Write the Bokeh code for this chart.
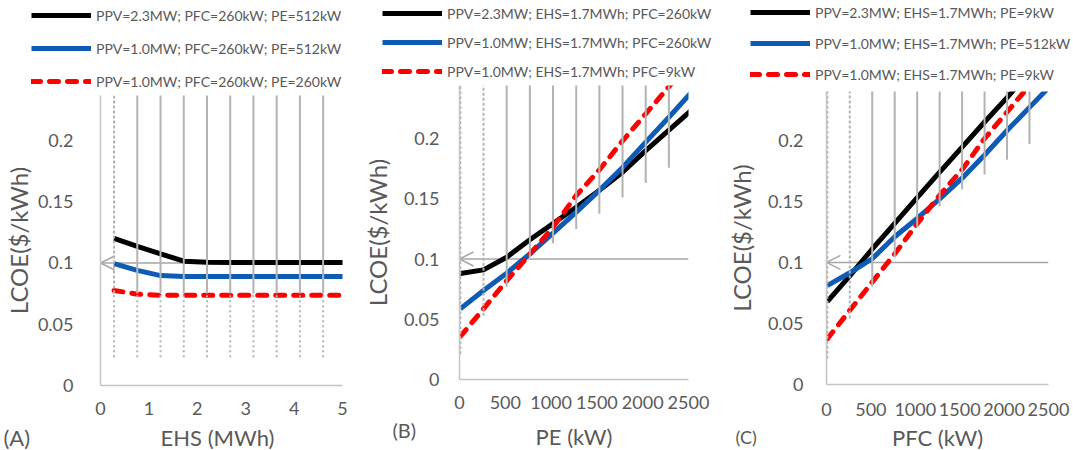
from bokeh.plotting import figure
from bokeh.layouts import row, column
from bokeh.models import (Range1d, FixedTicker, NumeralTickFormatter, Legend,
                          LegendItem, Arrow, OpenHead, Label)
from bokeh.embed import file_html
from bokeh.resources import INLINE

FONT = "Lato"
TXT = "#595959"
VGRAY = "#b3b3b3"
HGRAY = "#a6a6a6"
AXC = "#c4c4c4"
BLACK = "#000000"
BLUE = "#0d5bb5"
RED = "#ff0000"
NAN = float("nan")

# ---------------- Panel A : LCOE vs EHS (MWh) ----------------
a_x = [0.28, 0.76, 1.24, 1.72, 2.2, 2.68, 3.16, 3.64, 4.12, 4.6, 5.08]
a_black = [0.120, 0.1135, 0.1075, 0.1015, 0.1005, 0.1004, 0.1004, 0.1004, 0.1004, 0.1004, 0.1004]
a_blue = [0.0995, 0.0940, 0.0897, 0.0890, 0.0889, 0.0889, 0.0889, 0.0889, 0.0889, 0.0889, 0.0889]
a_red = [0.0776, 0.0745, 0.0737, 0.0736, 0.0736, 0.0736, 0.0736, 0.0736, 0.0736, 0.0736, 0.0736]
a_low = [0.023, 0.023, 0.023, 0.023, 0.023, 0.023, 0.023, 0.023, 0.023, 0.023]
a_labels = ["PPV=2.3MW; PFC=260kW; PE=512kW",
            "PPV=1.0MW; PFC=260kW; PE=512kW",
            "PPV=1.0MW; PFC=260kW; PE=260kW"]
a_xticks = [0, 1, 2, 3, 4, 5]

# ---------------- Panel B : LCOE vs PE (kW) ----------------
b_x = [9, 262, 515, 768, 1021, 1274, 1527, 1780, 2033, 2286, 2539]
b_black = [0.088, 0.091, 0.1015, 0.116, 0.1295, 0.143, 0.157, 0.172, 0.190, 0.207, 0.224]
b_blue = [0.0587, 0.0739, 0.0882, 0.1043, 0.1214, 0.1389, 0.157, 0.176, 0.197, 0.2177, 0.239]
b_red = [0.0357, 0.0587, 0.082, 0.104, 0.1264, 0.1527, 0.174, 0.198, 0.2205, 0.243, 0.265]
b_low = [0.021, 0.053, 0.077, 0.1015, 0.113, 0.125, 0.1375, 0.151, 0.163, 0.1757]
b_labels = ["PPV=2.3MW; EHS=1.7MWh; PFC=260kW",
            "PPV=1.0MW; EHS=1.7MWh; PFC=260kW",
            "PPV=1.0MW; EHS=1.7MWh; PFC=9kW"]
b_xticks = [0, 500, 1000, 1500, 2000, 2500]

# ---------------- Panel C : LCOE vs PFC (kW) ----------------
c_x = [9, 262, 515, 768, 1021, 1274, 1527, 1780, 2033, 2286, 2539]
c_black = [0.068, 0.089, 0.111, 0.132, 0.153, 0.174, 0.1945, 0.215, 0.235, 0.256, 0.277]
c_blue = [0.081, 0.0915, 0.103, 0.121, 0.136, 0.152, 0.169, 0.188, 0.208, 0.227, 0.246]
c_red = [0.0374, 0.0607, 0.0839, 0.107, 0.1317, 0.155, 0.176, 0.2014, 0.2232, 0.245, 0.267]
c_low = [0.021, 0.054, 0.080, 0.104, 0.129, 0.146, 0.160, 0.172, 0.184, 0.197]
c_labels = ["PPV=2.3MW; EHS=1.7MWh; PE=9kW",
            "PPV=1.0MW; EHS=1.7MWh; PE=512kW",
            "PPV=1.0MW; EHS=1.7MWh; PE=9kW"]
c_xticks = [0, 500, 1000, 1500, 2000, 2500]

y_ticks = [0, 0.05, 0.1, 0.15, 0.2]
ref_level = 0.1


def no_align(f):
    try:
        f.frame_align = False
    except Exception:
        pass


def blank_fig(width, height):
    f = figure(width=width, height=height, output_backend="svg", toolbar_location=None,
               x_range=Range1d(0, width), y_range=Range1d(0, height),
               x_axis_location=None, y_axis_location=None, min_border=0)
    f.outline_line_color = None
    f.xgrid.visible = False
    f.ygrid.visible = False
    no_align(f)
    return f


def legend_fig(width, height, labels, loc, spacing):
    lf = blank_fig(width, height)
    g1 = lf.line(x=[NAN], y=[NAN], line_color=BLACK, line_width=5)
    g2 = lf.line(x=[NAN], y=[NAN], line_color=BLUE, line_width=5)
    g3 = lf.line(x=[NAN], y=[NAN], line_color=RED, line_width=5, line_dash="9 9",
                 line_cap="round")
    leg = Legend(items=[LegendItem(label=labels[0], renderers=[g1]),
                        LegendItem(label=labels[1], renderers=[g2]),
                        LegendItem(label=labels[2], renderers=[g3])],
                 location=loc, glyph_width=60, glyph_height=20, label_height=20,
                 label_standoff=5, spacing=spacing, padding=0, margin=0,
                 border_line_alpha=0, background_fill_alpha=0,
                 label_text_font=FONT, label_text_font_size="14px",
                 label_text_color=TXT)
    lf.add_layout(leg)
    return lf


def caption_fig(width, height, tag, tag_size, tag_xy, xlabel, xlabel_xy):
    cf = blank_fig(width, height)
    cf.add_layout(Label(x=tag_xy[0], y=tag_xy[1], text=tag, text_font=FONT,
                        text_font_size=tag_size, text_color=TXT,
                        text_align="left", text_baseline="middle"))
    cf.add_layout(Label(x=xlabel_xy[0], y=xlabel_xy[1], text=xlabel, text_font=FONT,
                        text_font_size="22px", text_color=TXT,
                        text_align="center", text_baseline="middle"))
    return cf


def make_panel(x, blk, blu, rd, low, xticks, width, height, bl, br, bb,
               xend, yend, dotted_n, split, xstand, ystand, ylabstand):
    p = figure(width=width, height=height, output_backend="svg", toolbar_location=None,
               x_range=Range1d(0, xend), y_range=Range1d(0, yend),
               min_border_left=bl, min_border_right=br,
               min_border_top=0, min_border_bottom=bb)
    no_align(p)
    p.outline_line_color = None
    p.xgrid.visible = False
    p.ygrid.visible = False

    for ax in (p.xaxis[0], p.yaxis[0]):
        ax.axis_line_color = AXC
        ax.axis_line_width = 1.5
        ax.major_tick_line_color = None
        ax.minor_tick_line_color = None
        ax.major_label_text_font = FONT
        ax.major_label_text_font_size = "18px"
        ax.major_label_text_color = TXT
        ax.axis_label_text_font = FONT
        ax.axis_label_text_font_style = "normal"
        ax.axis_label_text_color = TXT
    p.xaxis.ticker = FixedTicker(ticks=xticks)
    p.xaxis.formatter = NumeralTickFormatter(format="0")
    p.xaxis.major_label_standoff = xstand
    p.yaxis.ticker = FixedTicker(ticks=y_ticks)
    p.yaxis.formatter = NumeralTickFormatter(format="0.[00]")
    p.yaxis.axis_label = "LCOE($/kWh)"
    p.yaxis.axis_label_text_font_size = "24px"
    p.yaxis.major_label_standoff = ystand
    p.yaxis.axis_label_standoff = ylabstand

    p.add_layout(Arrow(end=OpenHead(size=14, line_color=HGRAY, line_width=1.5),
                       x_start=xend, y_start=ref_level, x_end=0, y_end=ref_level,
                       line_color=HGRAY, line_width=1.5, level="underlay"))

    p.line(x, blk, line_color=BLACK, line_width=5, line_join="round")
    p.line(x, blu, line_color=BLUE, line_width=5, line_join="round")
    p.line(x, rd, line_color=RED, line_width=5, line_dash="9 9",
           line_cap="round", line_join="round")

    n = len(low)
    top = [yend + 0.05] * n
    xs = x[:n]
    if split is None:
        p.segment(xs[:dotted_n], low[:dotted_n], xs[:dotted_n], top[:dotted_n],
                  line_color=VGRAY, line_width=2, line_dash="3 2")
        p.segment(xs[dotted_n:], low[dotted_n:], xs[dotted_n:], top[dotted_n:],
                  line_color=VGRAY, line_width=2)
    else:
        mid = [split] * n
        p.segment(xs, low, xs, mid, line_color=VGRAY, line_width=2, line_dash="2 3")
        p.segment(xs[:1], mid[:1], xs[:1], top[:1], line_color=VGRAY, line_width=2,
                  line_dash="3 2")
        p.segment(xs[1:], mid[1:], xs[1:], top[1:], line_color=VGRAY, line_width=2)
    return p


la = legend_fig(357, 95, a_labels, (31, 4), 13)
lb = legend_fig(356, 85, b_labels, (25, 4), 9)
lc = legend_fig(360, 91, c_labels, (37, 7), 11)

pa = make_panel(a_x, a_black, a_blue, a_red, a_low, a_xticks,
                357, 328, 92, 15, 38, 5, 0.2367, 1, 0.075, 10, 21, 2)
pb = make_panel(b_x, b_black, b_blue, b_red, b_low, b_xticks,
                356, 332, 102, 25, 38, 2500, 0.244, 2, None, 10, 14, 9)
pc = make_panel(c_x, c_black, c_blue, c_red, c_low, c_xticks,
                360, 333, 113, 25, 40, 2500, 0.240, 2, None, 12, 17, 9)

ca = caption_fig(357, 27, "(A)", "22px", (3, 13.5), "EHS (MWh)", (217, 13.5))
cb = caption_fig(356, 33, "(B)", "20px", (35, 21), "PE (kW)", (216.5, 14))
cc = caption_fig(360, 26, "(C)", "18px", (22, 13.5), "PFC (kW)", (224, 13))

layout = row(column(la, pa, ca), column(lb, pb, cb), column(lc, pc, cc))
open("out.html", "w").write(file_html(layout, INLINE))
